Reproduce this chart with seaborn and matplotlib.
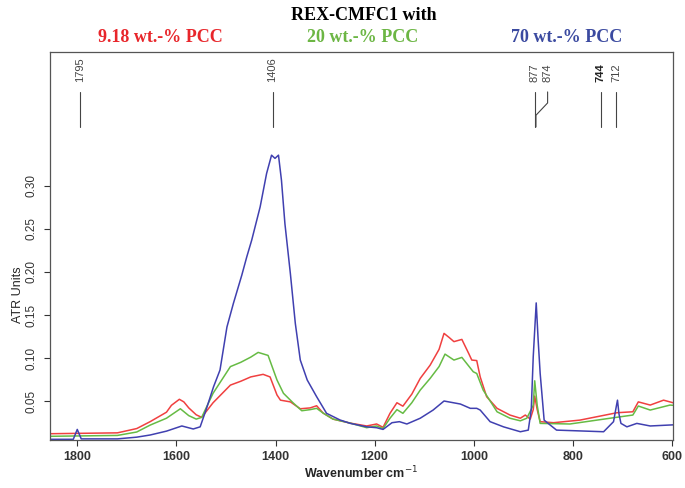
import matplotlib
matplotlib.use("Agg")
import pandas as pd
import matplotlib.pyplot as plt
import seaborn as sns

# spectra (wavenumber cm-1, ATR units)
red_wn = [1855, 1719, 1680, 1653, 1620, 1610, 1594, 1585, 1575, 1560, 1549, 1526, 1491,
          1470, 1450, 1425, 1411, 1397, 1390, 1370, 1350, 1330, 1317, 1304, 1284, 1249,
          1216, 1196, 1183, 1169, 1155, 1143, 1125, 1108, 1088, 1070, 1060, 1050, 1040,
          1024, 1010, 1004, 994, 987, 974, 953, 927, 906, 896, 886, 880, 877, 872, 866,
          839, 786, 745, 711, 679, 668, 644, 617, 598]
red_ab = [0.012, 0.013, 0.018, 0.026, 0.037, 0.045, 0.052, 0.049, 0.042, 0.034, 0.031, 0.048, 0.0685,
          0.073, 0.078, 0.081, 0.078, 0.057, 0.051, 0.049, 0.041, 0.042, 0.0445, 0.036, 0.029, 0.0243,
          0.021, 0.0233, 0.0194, 0.0357, 0.048, 0.044, 0.058, 0.0763, 0.0917, 0.110, 0.1286, 0.124, 0.119,
          0.1216, 0.105, 0.0976, 0.097, 0.078, 0.055, 0.0415, 0.0337, 0.030, 0.0337, 0.029, 0.040, 0.0557, 0.040, 0.026,
          0.0248, 0.0278, 0.0325, 0.0364, 0.0375, 0.049, 0.0453, 0.051, 0.048]

green_wn = [1855, 1719, 1680, 1653, 1620, 1592, 1575, 1560, 1549, 1526, 1491, 1470, 1450,
            1435, 1415, 1397, 1384, 1364, 1347, 1330, 1317, 1304, 1284, 1249, 1216, 1196,
            1183, 1169, 1155, 1143, 1125, 1108, 1088, 1070, 1058, 1040, 1024, 1001, 994,
            981, 953, 927, 906, 893, 880, 877, 872, 866, 806, 725, 679, 668, 644, 604, 598]
green_ab = [0.009, 0.010, 0.014, 0.022, 0.030, 0.041, 0.033, 0.029, 0.031, 0.059, 0.090, 0.095, 0.101,
            0.1065, 0.103, 0.0744, 0.059, 0.0476, 0.0387, 0.040, 0.0415, 0.036, 0.029, 0.0243, 0.019, 0.021,
            0.018, 0.030, 0.040, 0.0357, 0.048, 0.0627, 0.0763, 0.090, 0.1045, 0.0976, 0.1007, 0.084, 0.082,
            0.0627, 0.0375, 0.030, 0.027, 0.030, 0.045, 0.0735, 0.045, 0.024, 0.0233, 0.030, 0.0337, 0.0442, 0.0395, 0.0453, 0.045]

blue_wn = [1855, 1808, 1800, 1792, 1719, 1680, 1653, 1620, 1589, 1566, 1552, 1540, 1525,
           1512, 1498, 1485, 1468, 1458, 1448, 1431, 1418, 1408, 1401, 1394, 1388, 1381,
           1370, 1360, 1350, 1336, 1317, 1297, 1270, 1249, 1216, 1196, 1183, 1165, 1150,
           1135, 1108, 1082, 1060, 1027, 1007, 994, 987, 967, 940, 906, 890, 884, 880, 874,
           870, 866, 858, 846, 833, 738, 718, 712, 710, 707, 703, 691, 671, 644, 598]
blue_ab = [0.0055, 0.0055, 0.017, 0.006, 0.006, 0.008, 0.0105, 0.015, 0.021, 0.0175, 0.020, 0.040, 0.0666,
           0.086, 0.136, 0.1634, 0.1963, 0.2175, 0.237, 0.2756, 0.3144, 0.3357, 0.332, 0.3357, 0.3066, 0.256,
           0.198, 0.140, 0.0976, 0.0744, 0.055, 0.0357, 0.028, 0.024, 0.020, 0.019, 0.017, 0.0248, 0.026,
           0.0233, 0.030, 0.0395, 0.050, 0.0465, 0.0415, 0.0415, 0.0395, 0.026, 0.020, 0.0143, 0.0162, 0.040, 0.1014, 0.164,
           0.120, 0.082, 0.0278, 0.0222, 0.0162, 0.0143, 0.026, 0.045, 0.051, 0.035, 0.024, 0.020, 0.024, 0.021, 0.0223]

samples = ["9.18 wt.-% PCC", "20 wt.-% PCC", "70 wt.-% PCC"]
line_colors = ["#f04040", "#66bb44", "#4040b0"]
title_colors = ["#e8262b", "#6cb644", "#3b4aa0"]

peak_pos = [1795, 1406, 877, 874, 744, 712]
peak_txt = ["1795", "1406", "877", "874", "744", "712"]

frames = []
for name, wn, ab in zip(samples, [red_wn, green_wn, blue_wn], [red_ab, green_ab, blue_ab]):
    frames.append(pd.DataFrame({"wn": wn, "ab": ab, "sample": name}))
df = pd.concat(frames, ignore_index=True)

sns.set_style("ticks")
plt.rcParams["font.family"] = ["Liberation Sans", "DejaVu Sans"]

fig = plt.figure(figsize=(6.85, 4.88), dpi=100)
ax = fig.add_axes([50 / 685, 1 - 440 / 488, 623 / 685, 388 / 488])

sns.lineplot(data=df, x="wn", y="ab", hue="sample", palette=dict(zip(samples, line_colors)),
             estimator=None, linewidth=1.1, legend=False, ax=ax)

ax.set_xlim(1855, 598)
ax.set_ylim(0.0047, 0.4556)
ax.set_xticks([1800, 1600, 1400, 1200, 1000, 800, 600])
ax.set_yticks([0.05, 0.10, 0.15, 0.20, 0.25, 0.30])
ax.set_yticklabels(["0.05", "0.10", "0.15", "0.20", "0.25", "0.30"], rotation=90, va="center")
for lab in ax.get_xticklabels():
    lab.set_fontweight("bold")
ax.tick_params(axis="x", direction="out", length=4, width=0.8, labelsize=9, pad=4, colors="#333")
ax.tick_params(axis="y", direction="out", length=4, width=0.8, labelsize=8.5, pad=5, colors="#333")
for s in ax.spines.values():
    s.set_visible(True)
    s.set_color("#555555")
    s.set_linewidth(0.9)

ax.set_xlabel("Wavenumber cm$^{-1}$", fontsize=9, fontweight="bold", labelpad=1)
ax.set_ylabel("ATR Units", fontsize=9, va="center")
ax.yaxis.set_label_coords(-32 / 623, 0.374)

# peak markers at the top of the plot
for pos, txt in zip(peak_pos, peak_txt):
    if txt == "874":
        ax.plot([851, 851, 874.5, 874.5], [0.4092, 0.3964, 0.3821, 0.3685], color="#444", lw=0.8)
        tx = 851
    else:
        ax.plot([pos, pos], [0.3685, 0.4092], color="#444", lw=0.8)
        tx = pos
    ax.text(tx, 0.4204, txt, rotation=90, ha="center", va="bottom", fontsize=8,
            color="#222" if txt == "744" else "#444",
            fontweight="bold" if txt == "744" else "normal")

fig.text(364 / 685, 1 - 16 / 488, "REX-CMFC1 with", ha="center", va="center",
         family="Liberation Serif", fontweight="bold", fontsize=13, color="black")
for xc, txt, c in zip([160, 363, 567], samples, title_colors):
    fig.text(xc / 685, 1 - 37 / 488, txt, ha="center", va="center",
             family="Liberation Serif", fontweight="bold", fontsize=13, color=c)

fig.savefig("out.png", dpi=100)
